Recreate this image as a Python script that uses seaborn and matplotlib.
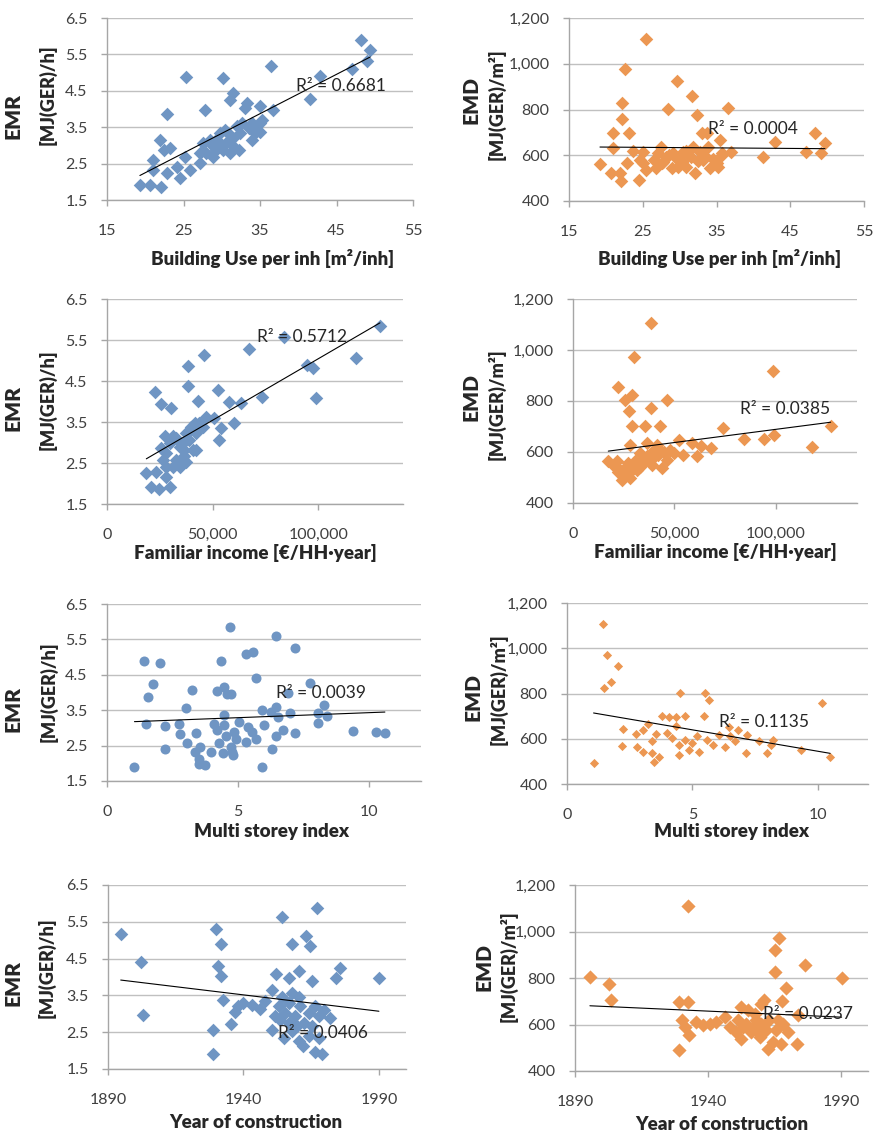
import numpy as np
import pandas as pd
import seaborn as sns
import matplotlib.pyplot as plt
from matplotlib.ticker import FuncFormatter

# building use per inhabitant [m2/inh] vs EMR
use_x = [48.2, 49.4, 49.0, 47.0, 42.9, 41.5, 36.4, 25.3, 30.2, 31.5, 31.1, 33.3, 33.0, 27.8, 22.8,
         35.0, 36.7, 21.9, 23.2, 22.4, 21.0, 21.0, 19.3, 20.6, 22.1, 22.8, 24.5, 24.1, 25.2, 25.8,
         27.1, 27.6, 28.0, 28.9, 29.3, 29.8, 28.9, 30.4, 30.6, 31.1, 31.5, 32.0, 32.2, 32.4, 33.5,
         33.9, 34.3, 35.0, 35.0, 33.9, 35.2, 30.2, 29.3, 27.1, 28.4, 31.5, 32.6, 29.8, 31.1, 34.1]
use_emr = [5.89, 5.63, 5.31, 5.10, 4.91, 4.28, 5.19, 4.89, 4.85, 4.44, 4.25, 4.16, 4.02, 3.98, 3.87,
           4.07, 3.98, 3.15, 2.92, 2.88, 2.60, 2.33, 1.91, 1.91, 1.87, 2.23, 2.10, 2.42, 2.69, 2.33,
           2.51, 3.06, 2.78, 2.97, 3.15, 3.33, 2.69, 3.43, 3.06, 2.78, 3.20, 3.52, 2.88, 3.33, 3.47,
           3.15, 3.33, 3.61, 3.38, 3.61, 3.70, 2.88, 2.88, 2.78, 3.15, 2.97, 3.61, 3.06, 3.29, 3.47]

# building use vs EMD
use2_x = [25.4, 22.6, 29.6, 31.7, 22.2, 28.4, 36.6, 32.3, 22.2, 20.9, 23.1, 33.0, 33.7, 48.3, 42.9,
          35.5, 49.7, 47.2, 49.2, 41.3, 37.0, 20.9, 19.2, 20.7, 21.9, 22.1, 22.8, 24.5, 23.7, 25.0,
          25.5, 24.6, 26.8, 27.5, 28.1, 28.9, 29.1, 30.0, 30.5, 30.9, 31.6, 32.1, 31.8, 33.2, 33.9,
          34.1, 35.0, 35.2, 35.7, 27.6, 29.8, 25.0, 32.8, 26.5, 27.8, 28.5, 29.5, 30.3, 31.2, 32.5,
          33.5, 34.5, 35.8, 27.0, 30.8]
use_emd = [1109, 977, 923, 857, 828, 801, 806, 774, 758, 696, 696, 699, 696, 699, 657,
           667, 653, 616, 609, 591, 616, 631, 562, 521, 521, 488, 565, 492, 620, 565,
           536, 580, 543, 638, 594, 543, 609, 580, 616, 550, 594, 521, 638, 580, 638,
           543, 565, 550, 609, 565, 550, 616, 616, 580, 570, 600, 590, 570, 600, 575,
           595, 585, 600, 610, 620]

# familiar income [EUR/HH year] vs EMR
inc_x = [129100, 83800, 67000, 46100, 38200, 117600, 94800, 97200, 98700, 38200, 22500, 52400, 42900,
         25600, 30300, 57900, 63400, 73100, 60200, 46900, 50800, 54000, 53100, 18600, 23300, 20900,
         24800, 29600, 28000, 27200, 25600, 28000, 29600, 31100, 32700, 34300, 35800, 36600, 37400,
         39000, 39800, 40600, 42100, 43700, 42100, 45300, 31100, 35100, 37400, 28000, 26400, 39000,
         41400, 34300, 36600, 32700]
inc_emr = [5.83, 5.57, 5.28, 5.14, 4.86, 5.06, 4.90, 4.81, 4.08, 4.38, 4.24, 4.27, 4.02,
           3.94, 3.85, 4.00, 3.96, 4.12, 3.47, 3.63, 3.59, 3.35, 3.06, 2.25, 2.29, 1.91,
           1.86, 1.92, 2.17, 3.15, 2.86, 2.74, 2.98, 3.15, 2.58, 2.41, 2.98, 2.66, 3.23,
           3.06, 3.39, 2.82, 3.23, 3.47, 2.82, 3.39, 2.41, 2.53, 2.53, 2.41, 2.58, 3.27,
           3.47, 2.90, 2.82, 3.10]

# familiar income vs EMD
inc2_x = [38400, 30100, 98500, 22400, 29000, 25700, 46400, 38400, 27800, 29300, 35600, 43000,
          73700, 127000, 84400, 94400, 99300, 118000, 28100, 36400, 41400, 52200, 58800, 61300,
          67900, 62900, 54000, 49700, 17400, 21500, 24000, 28100, 25700, 31500, 33900, 36400,
          38900, 41400, 43900, 46400, 43000, 39700, 33100, 30600, 23200, 48000, 20000, 22000,
          24000, 26000, 28000, 30000, 32000, 34000, 36000, 38000, 40000, 42000, 45000, 33000, 27000]
inc_emd = [1107, 974, 919, 854, 824, 804, 802, 774, 759, 700, 700, 700,
           693, 700, 650, 650, 667, 619, 628, 635, 628, 648, 635, 583,
           615, 622, 589, 596, 563, 563, 491, 498, 537, 530, 563, 583,
           550, 596, 537, 569, 609, 609, 596, 563, 530, 609, 545, 520,
           510, 530, 520, 545, 550, 560, 570, 575, 580, 590, 600, 540, 555]

# multi storey index vs EMR
ms_x = [4.70, 6.47, 7.20, 5.31, 5.59, 1.41, 2.03, 4.37, 5.69, 1.75, 7.75, 1.56, 3.25, 4.19, 4.47,
        4.60, 4.73, 6.92, 3.00, 5.93, 6.47, 6.98, 8.30, 8.07, 8.39, 8.07, 1.48, 2.22, 2.74, 2.80,
        3.42, 4.47, 4.09, 4.47, 4.22, 4.54, 4.86, 5.05, 5.37, 5.56, 5.69, 5.31, 4.92, 6.00, 6.53,
        6.72, 6.47, 7.20, 6.27, 3.06, 3.55, 2.20, 3.38, 3.51, 3.51, 3.73, 3.99, 4.28, 4.45, 4.76,
        4.82, 4.73, 5.93, 6.30, 1.05, 9.42, 10.28, 10.62]
ms_emr = [5.84, 5.59, 5.27, 5.08, 5.15, 4.89, 4.84, 4.90, 4.42, 4.25, 4.27, 3.88, 4.08, 4.05, 4.16,
          3.97, 3.95, 3.99, 3.55, 3.50, 3.59, 3.42, 3.64, 3.41, 3.33, 3.15, 3.12, 3.06, 3.12, 2.84,
          2.87, 3.36, 3.12, 3.08, 2.93, 2.77, 2.89, 3.17, 3.03, 2.89, 2.70, 2.60, 2.70, 3.08, 3.31,
          2.95, 2.77, 2.86, 3.45, 2.56, 2.46, 2.39, 2.32, 2.13, 1.97, 1.94, 2.32, 2.56, 2.28, 2.32,
          2.23, 2.46, 1.90, 2.39, 1.90, 2.92, 2.89, 2.87]

# multi storey index vs EMD
ms2_x = [1.42, 1.58, 2.02, 1.75, 1.49, 4.50, 5.51, 5.67, 10.17, 5.45, 3.77, 4.06, 4.35, 4.70, 4.35,
         2.22, 3.21, 4.00, 3.01, 2.74, 3.54, 3.38, 2.19, 2.81, 3.03, 3.40, 3.47, 3.67, 4.46, 4.46,
         4.72, 4.85, 4.99, 5.18, 5.25, 5.58, 5.84, 6.04, 6.31, 6.44, 6.50, 6.70, 6.83, 7.16, 7.12,
         7.65, 7.99, 8.22, 8.15, 9.31, 10.49, 1.06, 4.20]
ms_emd = [1108, 971, 920, 853, 824, 801, 804, 772, 757, 701, 701, 698, 695, 701, 657,
          642, 666, 627, 639, 621, 621, 588, 568, 565, 543, 536, 499, 521, 573, 528,
          595, 551, 580, 610, 543, 595, 573, 617, 565, 654, 610, 588, 639, 617, 539,
          588, 539, 595, 573, 551, 521, 494, 602]

# year of construction vs EMR
yr_x = [1894.7, 1902.1, 1903.0, 1929.8, 1931.7, 1930.5, 1931.7, 1932.6, 1928.9, 1928.9, 1935.4,
        1936.9, 1938.1, 1940.0, 1943.1, 1946.2, 1948.0, 1950.7, 1952.0, 1954.2, 1956.7, 1957.9,
        1960.4, 1963.1, 1964.7, 1967.2, 1965.3, 1974.0, 1975.8, 1990.0, 1972.1, 1950.5, 1954.8,
        1960.4, 1961.9, 1966.5, 1969.0, 1964.1, 1967.8, 1953.0, 1954.2, 1955.4, 1956.7, 1957.9,
        1959.1, 1960.4, 1961.0, 1962.2, 1964.1, 1966.5, 1967.8, 1965.3, 1953.6, 1951.7, 1956.7,
        1957.9, 1969.6, 1959.8]
yr_emr = [5.17, 4.42, 2.96, 5.31, 4.89, 4.30, 4.03, 3.38, 2.57, 1.92, 2.73,
          3.04, 3.20, 3.29, 3.25, 3.13, 3.36, 3.65, 4.09, 5.62, 3.97, 4.89,
          4.15, 5.12, 4.83, 5.87, 3.88, 3.97, 4.24, 3.97, 2.88, 2.57, 2.34,
          2.25, 2.13, 1.95, 1.92, 2.39, 2.34, 3.20, 3.47, 3.02, 3.29, 3.56,
          2.93, 3.47, 3.20, 2.75, 3.02, 3.20, 2.93, 2.66, 2.84, 2.93, 2.75,
          2.52, 3.11, 2.66]

# year of construction vs EMD
yr2_x = [1895.6, 1902.7, 1903.7, 1932.5, 1929.2, 1932.5, 1930.0, 1931.3, 1932.9, 1929.2, 1935.6,
         1938.1, 1940.6, 1943.1, 1946.2, 1948.1, 1950.6, 1952.4, 1952.4, 1955.0, 1956.2, 1958.0,
         1959.9, 1961.1, 1962.4, 1964.3, 1964.9, 1964.9, 1966.5, 1967.7, 1969.2, 1969.9, 1967.4,
         1973.2, 1976.4, 1990.1, 1973.9, 1954.3, 1956.8, 1958.6, 1959.9, 1961.8, 1963.0, 1965.5,
         1968.0, 1951.2, 1953.1, 1957.4, 1959.3, 1966.1]
yr_emd = [805, 776, 704, 1109, 697, 697, 618, 589, 553, 492, 611,
          597, 604, 611, 632, 589, 568, 676, 539, 661, 568, 618,
          690, 704, 496, 525, 826, 920, 974, 701, 757, 568, 518,
          518, 855, 802, 640, 604, 589, 568, 604, 575, 618, 575,
          604, 618, 589, 647, 546, 618]

r2_labels = ["R² = 0.6681", "R² = 0.0004", "R² = 0.5712", "R² = 0.0385",
             "R² = 0.0039", "R² = 0.1135", "R² = 0.0406", "R² = 0.0237"]
x_titles = ["Building Use per inh [m²/inh]", "Familiar income [€/HH·year]",
            "Multi storey index", "Year of construction"]
emr_ticks = [1.5, 2.5, 3.5, 4.5, 5.5, 6.5]
emd_ticks = [400, 600, 800, 1000, 1200]

BLUE = "#6F95C3"
ORANGE = "#EC9752"
W, H = 875, 1136

sns.set_theme(style="white")
plt.rcParams['font.family'] = ['Lato', 'DejaVu Sans']

fig = plt.figure(figsize=(W / 100, H / 100), dpi=100)


def box(l, r, t, b):
    return [l / W, 1 - b / H, (r - l) / W, (b - t) / H]


def fpos(x, y):
    return x / W, 1 - y / H


emr_fmt = FuncFormatter(lambda v, p: f"{v:.1f}")
comma_fmt = FuncFormatter(lambda v, p: f"{v:,.0f}")

panels = [
    # x, y, axes box, xlim, xticks, emr?, marker, size, r2 pos, xtitle, xtitle pos, ylabel pos
    dict(x=use_x, y=use_emr, box=(107, 413, 18, 200), xlim=(15, 55), xt=[15, 25, 35, 45, 55],
         emr=True, m="D", s=48, r2=(296, 86), xl=0, xlp=(273, 258), yl=((13, 116), (48, 95))),
    dict(x=use2_x, y=use_emd, box=(569, 864, 18, 201), xlim=(15, 55), xt=[15, 25, 35, 45, 55],
         emr=False, m="D", s=48, r2=(708, 129), xl=0, xlp=(720, 259), yl=((471, 100), (497, 104))),
    dict(x=inc_x, y=inc_emr, box=(107, 403, 299, 504), xlim=(0, 140000), xt=[0, 50000, 100000],
         emr=True, m="D", s=48, r2=(257, 337), xl=1, xlp=(255, 553), yl=((13, 408), (48, 400))),
    dict(x=inc2_x, y=inc_emd, box=(573, 857, 299, 503), xlim=(0, 140000), xt=[0, 50000, 100000],
         emr=False, m="D", s=48, r2=(740, 409), xl=1, xlp=(715, 552), yl=((471, 397), (497, 404))),
    dict(x=ms_x, y=ms_emr, box=(107, 421, 604, 781), xlim=(0, 12), xt=[0, 5, 10],
         emr=True, m="o", s=52, r2=(276, 693), xl=2, xlp=(272, 832), yl=((13, 709), (49, 692))),
    dict(x=ms2_x, y=ms_emd, box=(567, 868, 603, 784), xlim=(0, 12), xt=[0, 5, 10],
         emr=False, m="D", s=22, r2=(719, 722), xl=2, xlp=(732, 832), yl=((473, 697), (499, 689))),
    dict(x=yr_x, y=yr_emr, box=(108, 406, 885, 1069), xlim=(1890, 2000), xt=[1890, 1940, 1990],
         emr=True, m="D", s=48, r2=(278, 1033), xl=3, xlp=(256, 1122), yl=((13, 983), (47, 968))),
    dict(x=yr2_x, y=yr_emd, box=(575, 868, 885, 1071), xlim=(1890, 2000), xt=[1890, 1940, 1990],
         emr=False, m="D", s=52, r2=(763, 1014), xl=3, xlp=(722, 1125), yl=((484, 967), (509, 966))),
]

for i, p in enumerate(panels):
    ax = fig.add_axes(box(*p["box"]))
    df = pd.DataFrame({"x": p["x"], "y": p["y"]})
    color = BLUE if p["emr"] else ORANGE
    sns.scatterplot(data=df, x="x", y="y", ax=ax, marker=p["m"], s=p["s"], color=color,
                    linewidth=0, alpha=1, zorder=3, legend=False)
    sns.regplot(data=df, x="x", y="y", ax=ax, scatter=False, ci=None, truncate=True,
                line_kws=dict(color="black", lw=0.8, zorder=4))

    ax.set_xlim(*p["xlim"])
    ax.set_xticks(p["xt"])
    if p["emr"]:
        ax.set_ylim(1.5, 6.5)
        ax.set_yticks(emr_ticks)
        ax.yaxis.set_major_formatter(emr_fmt)
    else:
        ax.set_ylim(400, 1200)
        ax.set_yticks(emd_ticks)
        ax.yaxis.set_major_formatter(comma_fmt)
    if p["xl"] == 1:
        ax.xaxis.set_major_formatter(comma_fmt)

    ax.grid(axis="y", color="#C0C0C0", lw=1)
    ax.grid(axis="x", visible=False)
    ax.set_axisbelow(True)
    for side in ("top", "right"):
        ax.spines[side].set_visible(False)
    for side in ("left", "bottom"):
        ax.spines[side].set_color("#A6A6A6")
        ax.spines[side].set_linewidth(1)
    ax.tick_params(axis="x", direction="out", length=4, width=1, color="#A6A6A6",
                   pad=13, labelsize=11.5, labelcolor="#404040", bottom=True)
    ax.tick_params(axis="y", direction="out", length=4, width=1, color="#A6A6A6",
                   pad=10, labelsize=11.5, labelcolor="#404040", left=True)
    ax.set_xlabel("")
    ax.set_ylabel("")

    (mx, my), (ux, uy) = p["yl"]
    main = "EMR" if p["emr"] else "EMD"
    unit = "[MJ(GER)/h]" if p["emr"] else "[MJ(GER)/m²]"
    fig.text(*fpos(mx, my), main, rotation=90, ha="center", va="center",
             fontsize=15, fontweight="heavy", color="#262626")
    fig.text(*fpos(ux, uy), unit, rotation=90, ha="center", va="center",
             fontsize=13, fontweight="heavy", color="#262626")
    fig.text(*fpos(*p["xlp"]), x_titles[p["xl"]], ha="center", va="center",
             fontsize=13.5, fontweight="heavy", color="#262626")
    fig.text(*fpos(*p["r2"]), r2_labels[i], ha="left", va="center",
             fontsize=12.5, color="#262626")

fig.savefig("out.png", dpi=100)
